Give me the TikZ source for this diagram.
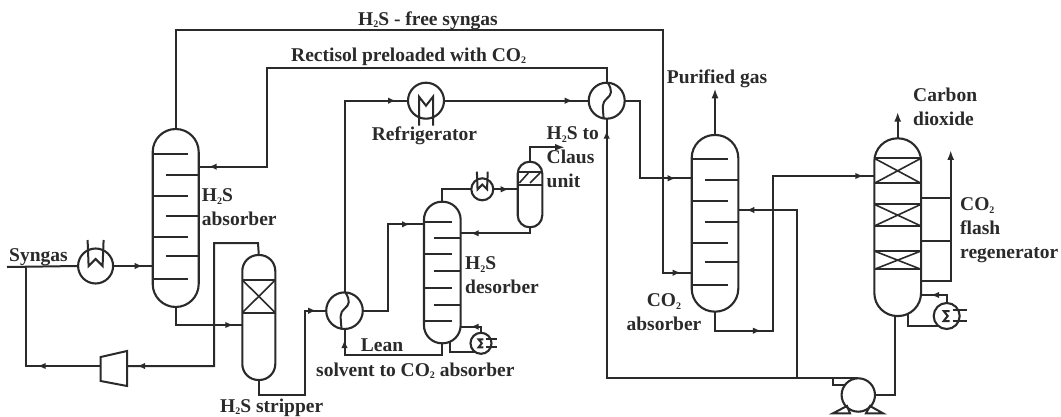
\documentclass[tikz,border=0pt]{standalone}
\usepackage{fontspec}
\setmainfont{Liberation Serif}
\usepackage{xcolor}
\usepackage{tikz}
\usetikzlibrary{arrows.meta,decorations.markings}
\definecolor{ink}{HTML}{2A2A2A}
\newcommand{\subTwo}{\raisebox{-0.25ex}{\fontsize{10}{10}\selectfont 2}}
\tikzset{
  pipe/.style={draw=ink, line width=2pt, line join=miter},
  vessel/.style={draw=ink, fill=white, line width=2.1pt, inner sep=0pt, outer sep=0pt},
  hxBody/.style={circle, draw=ink, line width=2.1pt, inner sep=0pt, outer sep=0pt},
  tray/.style={draw=ink, line width=1.9pt},
  packLine/.style={draw=ink, line width=1.6pt},
  tag/.style={text=ink, font=\fontsize{19.5}{24}\selectfont\bfseries, inner sep=0pt, align=left, anchor=west, yshift=-1.5pt},
  endTip/.style={-{Latex[length=10pt,width=7pt]}},
  flowTip/.style={postaction={decoration={markings,
    mark=at position #1 with {\arrow{Latex[length=8pt,width=6.5pt]}}},decorate}},
  wiggle/.pic={
    \draw[pipe] (1,-18) .. controls (6,-10) and (5,-6) .. (0,-2) .. controls (-5,2) and (-4,6) .. (-3,18);
  },
  coil/.pic={
    \draw[pipe] (-8,-26)--(-7,0)--(0,-7)--(7,0)--(8,-26);
  },
  coilDown/.pic={
    \draw[pipe] (-7,25)--(-7,-4)--(0,5)--(7,-4)--(7,25);
  },
  sigmaHx/.pic={
    \draw[pipe] (3,-5)--(-3,-5)--(1,0)--(-3,5)--(3,5);
    \draw[pipe] (6,-6)--(20,-6) (6,5)--(20,5);
  }
}
\begin{document}
\begin{tikzpicture}[x=1pt,y=-1pt]
  \useasboundingbox (0,0) rectangle (1061,417);

  % columns
  \node[vessel, minimum width=46pt, minimum height=178pt, rounded corners=23pt] (absH) at (175.7,218) {};
  \node[vessel, minimum width=33pt, minimum height=125pt, rounded corners=16pt] (strip) at (258.8,317.5) {};
  \node[vessel, minimum width=36.7pt, minimum height=141.6pt, rounded corners=18pt] (desH) at (442.3,272.5) {};
  \node[vessel, minimum width=24.6pt, minimum height=65.6pt, rounded corners=12pt] (drum) at (530,194.5) {};
  \node[vessel, minimum width=46.6pt, minimum height=176.7pt, rounded corners=23pt] (absC) at (715,223.3) {};
  \node[vessel, minimum width=46.7pt, minimum height=177.7pt, rounded corners=23pt] (regen) at (897.7,227.2) {};

  % exchangers
  \node[hxBody, minimum size=35pt] (hxSyn) at (95.6,266) {};
  \node[hxBody, minimum size=36.6pt] (hxLean) at (344.5,310.7) {};
  \node[hxBody, minimum size=36pt] (refrig) at (426,100.7) {};
  \node[hxBody, minimum size=36pt] (hxRich) at (606.7,100.7) {};
  \node[hxBody, minimum size=22pt] (cond) at (482.3,189.3) {};
  \node[hxBody, minimum size=21pt] (rebH) at (481,343.3) {};
  \node[hxBody, minimum size=26pt] (rebC) at (946.7,316) {};
  \node[hxBody, minimum size=33.4pt] (pump) at (858.3,395) {};

  \pic at (hxLean) {wiggle};
  \pic at (hxRich) {wiggle};
  \pic at (hxSyn) {coil};
  \pic at (refrig) {coilDown};
  \pic[scale=0.68] at (cond) {coil};
  \pic[scale=0.8] at (rebH) {sigmaHx};
  \pic at (rebC) {sigmaHx};

  % compressor and pump details
  \coordinate (compL) at (100.7,366);
  \coordinate (compR) at (127,366);
  \draw[pipe] (100.7,357)--(127,351)--(127,386)--(100.7,381)--cycle;
  \coordinate (pumpOut) at (832.7,378.3);
  \draw[pipe] (pumpOut)--(858,378.3) (pumpOut)--(832.7,385)--(846,385);
  \draw[pipe] (847,406)--(833,413.3)--(850,413.3)--cycle;
  \draw[pipe] (870,406)--(883,413.3)--(866,413.3)--cycle;

  % trays
  \draw[tray] (152.7,154.3)--(188,154.3) (166,175)--(198.7,175) (152.7,196)--(188,196)
    (166,216.3)--(198.7,216.3) (152.7,237.3)--(188,237.3) (166,256)--(198.7,256) (152.7,279.3)--(188,279.3);
  \draw[tray] (424,221.7)--(451.7,221.7) (434.3,237.7)--(460.7,237.7) (424,254)--(451.7,254)
    (434.3,271.3)--(460.7,271.3) (424,288.3)--(451.7,288.3) (434.3,305)--(460.7,305) (424,320.7)--(451.7,320.7);
  \draw[tray] (691.7,159.3)--(727.7,159.3) (705,180)--(738.3,180) (691.7,201)--(727.7,201)
    (705,221.7)--(738.3,221.7) (691.7,242.7)--(727.7,242.7) (705,261.7)--(738.3,261.7) (691.7,285)--(727.7,285);

  % packed beds
  \draw[tray] (242.3,280)--(275.3,280) (242.3,312.7)--(275.3,312.7);
  \draw[packLine] (242.3,280)--(275.3,312.7) (242.3,312.7)--(275.3,280);
  \draw[tray] (517.7,171.7)--(542.3,171.7) (517.7,185)--(542.3,185);
  \draw[packLine] (519.3,183)--(528.3,173) (530,183)--(540,173);
  \draw[tray] (874.3,158.3)--(921,158.3) (874.3,183.3)--(921,183.3);
  \draw[packLine] (874.3,158.3)--(921,183.3) (874.3,183.3)--(921,158.3);
  \draw[tray] (874.3,204.3)--(921,204.3) (874.3,226)--(921,226);
  \draw[packLine] (874.3,204.3)--(921,226) (874.3,226)--(921,204.3);
  \draw[tray] (874.3,251)--(921,251) (874.3,269.3)--(921,269.3);
  \draw[packLine] (874.3,251)--(921,269.3) (874.3,269.3)--(921,251);

  % free ends and corners of the lines
  \coordinate (synIn) at (7,267);
  \coordinate (synTee) at (26,267);
  \coordinate (stripTop) at (258,243);
  \coordinate (vapBack) at (214,366);
  \coordinate (absBot) at (176,325);
  \coordinate (stripOut) at (305,395.3);
  \coordinate (leanRise) at (387.7,310.7);
  \coordinate (desFeed) at (424,224.3);
  \coordinate (clausOut) at (565,147.3);
  \coordinate (desReflux) at (460.7,233.3);
  \coordinate (leanTurn) at (344.5,355);
  \coordinate (rebHback) at (460.7,326.7);
  \coordinate (richTop) at (266.7,67.7);
  \coordinate (absHin) at (198.7,166.7);
  \coordinate (coldDrop) at (640,178.3);
  \coordinate (absCfeed) at (691.7,178.3);
  \coordinate (topRun) at (662.7,30);
  \coordinate (absCgas) at (691.7,272.7);
  \coordinate (purified) at (715,88.3);
  \coordinate (richTee) at (772.7,330.7);
  \coordinate (regenFeed) at (874.3,176);
  \coordinate (solvTee) at (796.7,378.3);
  \coordinate (absCret) at (738.3,210);
  \coordinate (carbonOut) at (897.7,111.7);
  \coordinate (flashOut) at (950.7,150);
  \coordinate (rebCback) at (921,295);

  % lines
  \draw[pipe] (synIn) -- (hxSyn.west);
  \draw[pipe, flowTip=-10pt] (hxSyn.east) -- (absH.west |- hxSyn.east);
  \draw[pipe, flowTip=63pt] (compL) -| (synTee);
  \draw[pipe, flowTip=-10pt] (strip.north) -- (stripTop) -| (vapBack) -- (compR);
  \draw[pipe, flowTip=-9pt] (absH.south) |- (strip.west |- absBot);
  \draw[pipe, flowTip=-10pt] (strip.south) |- (stripOut) |- (hxLean.west);
  \draw[pipe, flowTip=-14pt] (hxLean.east) -- (leanRise) |- (desFeed);
  \draw[pipe, flowTip=-12pt] (hxLean.north) |- (refrig.west);
  \draw[pipe, flowTip=-16pt] (refrig.east) -- (hxRich.west);
  \draw[pipe] (desH.north) |- (cond.west);
  \draw[pipe, flowTip=-9pt] (cond.east) -- (drum.west |- cond.east);
  \draw[pipe, endTip] (drum.north) |- (clausOut);
  \draw[pipe, flowTip=-10pt] (drum.south) |- (desReflux);
  \draw[pipe, flowTip=-11pt] (desH.south) |- (leanTurn) -- (hxLean.south);
  \draw[pipe, flowTip=-10pt] (rebH.north) |- (rebHback);
  \draw[pipe] ([xshift=8pt,yshift=1.5pt]desH.south) |- (rebH.233);
  \draw[pipe, flowTip=-10pt] (hxRich.north) |- (richTop) |- (absHin);
  \draw[pipe, flowTip=-16pt] (hxRich.east) -| (coldDrop) -- (absCfeed);
  \draw[pipe, flowTip=-11pt] (absH.north) |- (topRun) |- (absCgas);
  \draw[pipe, endTip] (absC.north) -- (purified);
  \draw[pipe, flowTip=65pt, flowTip=-11pt] (absC.south) |- (richTee) |- (regenFeed);
  \draw[pipe] ([xshift=-3pt]regen.south) |- (pump.east);
  \draw[pipe, flowTip=-12pt] (pumpOut) -| (hxRich.south);
  \draw[pipe, flowTip=-8pt] (solvTee) |- (absCret);
  \draw[pipe, endTip] (regen.north) -- (carbonOut);
  \draw[pipe, endTip] (regen.east |- 0,280.7) -| (flashOut);
  \draw[pipe] (regen.east |- 0,197.7) -- (flashOut |- 0,197.7);
  \draw[pipe] (regen.east |- 0,241) -- (flashOut |- 0,241);
  \draw[pipe, flowTip=-10pt] (rebC.north) |- (rebCback);
  \draw[pipe] ([xshift=10pt,yshift=2pt]regen.south) |- (rebC.230);

  % labels
  \node[tag] (lblFree) at (358,19) {H\subTwo S - free syngas};
  \node[tag] (lblRect) at (291,55) {Rectisol preloaded with CO\subTwo};
  \node[tag] (lblPure) at (666.7,77) {Purified gas};
  \node[tag] (lblCarb) at (913,105.5) {Carbon\\dioxide};
  \node[tag] (lblFrig) at (371.7,134) {Refrigerator};
  \node[tag] (lblClaus) at (546.5,156) {H\subTwo S to\\Claus\\unit};
  \node[tag] (lblAbsH) at (201.7,206) {H\subTwo S\\absorber};
  \node[tag] (lblFlash) at (960,229) {CO\subTwo\\flash\\regenerator};
  \node[tag] (lblSyn) at (9,256) {Syngas};
  \node[tag] (lblDesH) at (465,274) {H\subTwo S\\desorber};
  \node[tag, anchor=center, align=center] (lblAbsC) at (664,311) {CO\subTwo\\absorber};
  \node[tag] (lblLean) at (360.7,344) {Lean};
  \node[tag] (lblSolv) at (316,369) {solvent to CO\subTwo{} absorber};
  \node[tag] (lblStrip) at (220,406) {H\subTwo S stripper};
\end{tikzpicture}
\end{document}
